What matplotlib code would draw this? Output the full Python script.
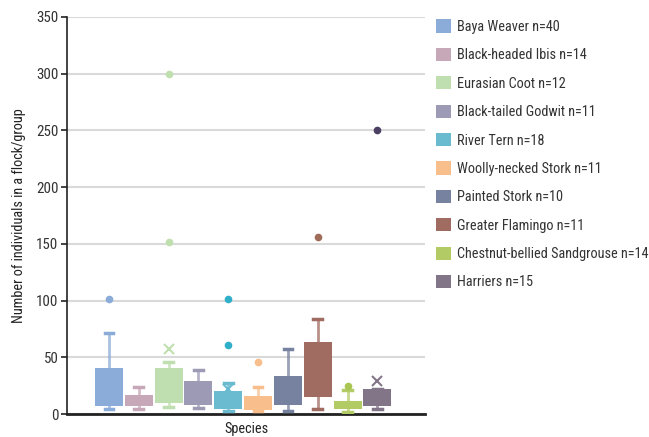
import numpy as np
import matplotlib
matplotlib.use('Agg')
from matplotlib import pyplot as plt
from matplotlib import font_manager
from matplotlib.patches import Patch

installed = {f.name for f in font_manager.fontManager.ttflist}
narrow = [f for f in ['Roboto Condensed', 'Liberation Sans Narrow', 'Open Sans Condensed',
                      'Noto Sans Condensed', 'Noto Sans Display Condensed', 'DejaVu Sans Condensed']
          if f in installed]
font = narrow[0] if narrow else 'Liberation Sans'
plt.rcParams['font.family'] = [font, 'DejaVu Sans']

# box plot summary
species = ['Baya Weaver', 'Black-headed Ibis', 'Eurasian Coot', 'Black-tailed Godwit',
           'River Tern', 'Woolly-necked Stork', 'Painted Stork', 'Greater Flamingo',
           'Chestnut-bellied Sandgrouse', 'Harriers']
n_obs = [40, 14, 12, 11, 18, 11, 10, 11, 14, 15]
q1 = [7, 7, 10, 8, 4.7, 3.8, 8, 15, 4, 7.3]
q3 = [40.5, 17, 40.5, 29, 20, 16, 33.5, 63.5, 11.5, 22]
whislo = [4, 4, 6, 5, 3, 3, 3, 4.7, 2, 4.7]
whishi = [71, 24, 46, 39, 27.5, 24, 57, 84, 21, 22]
means = [np.nan, np.nan, 57.5, np.nan, 22, np.nan, np.nan, np.nan, np.nan, 29.5]
fliers = [[101], [], [300, 152], [], [101, 61], [46], [], [156], [25], [250]]

colors = ['#8BACD8', '#C7A8B8', '#C0DFB0', '#9D9AB5', '#6BBBD0',
          '#F8BE8C', '#7781A0', '#A06C62', '#B3CB64', '#827588']
flier_colors = ['#8BACD8', '#C7A8B8', '#BFE0AE', '#9D9AB5', '#2FAFC8',
                '#F8BE8C', '#7781A0', '#A06C5A', '#A9C552', '#4B3F63']

fig = plt.figure(figsize=(6.49, 4.37), dpi=100)
ax = fig.add_axes([0.103, 0.0526, 0.552, 0.9085])

stats = []
for i in range(len(species)):
    stats.append(dict(med=q1[i], q1=q1[i], q3=q3[i], whislo=whislo[i], whishi=whishi[i],
                      mean=means[i], fliers=fliers[i], label=species[i]))

pos = np.arange(len(species))
bp = ax.bxp(stats, positions=pos, widths=0.94, capwidths=0.29, patch_artist=True,
            showmeans=True, showfliers=True)

for i, c in enumerate(colors):
    bp['boxes'][i].set(facecolor=c, edgecolor='none', zorder=3)
    bp['medians'][i].set_visible(False)
    for w in bp['whiskers'][2*i:2*i+2]:
        w.set(color=c, linewidth=2, alpha=0.75, zorder=2)
    for cp in bp['caps'][2*i:2*i+2]:
        cp.set(color=c, linewidth=2.5, zorder=2.6)
    bp['means'][i].set(marker='x', markeredgecolor=c, markersize=7, markeredgewidth=1.5, zorder=2.5)
    bp['fliers'][i].set(marker='o', markerfacecolor=flier_colors[i], markeredgecolor='none',
                        markersize=5.5, zorder=3)

fs = 10.3 if narrow else 9.5
ax.set_xlim(-1.41, 10.6)
ax.set_ylim(0, 350)
ax.set_yticks(range(0, 351, 50))
ax.set_xticks([])
ax.yaxis.grid(True, color='#D9D9D9', linewidth=1.5)
ax.set_axisbelow(True)
for s in ['top', 'right']:
    ax.spines[s].set_visible(False)
ax.spines['left'].set(color='#222222', linewidth=1.2)
ax.spines['bottom'].set(color='#222222', linewidth=2)
ax.tick_params(axis='y', length=4, width=1.2, color='#222222', labelsize=fs + 0.5,
               labelcolor='#333333', pad=2)
ax.set_xlabel('Species', fontsize=fs, color='#222222', labelpad=6)
ax.set_ylabel('Number of individuals in a flock/group', fontsize=fs, color='#222222', labelpad=7)

handles = [Patch(facecolor=c, edgecolor='none') for c in colors]
labels = [f'{s} n={n}' for s, n in zip(species, n_obs)]
fig.legend(handles, labels, loc='upper left', bbox_to_anchor=(0.652, 0.985), frameon=False,
           fontsize=fs, handlelength=1.05, handleheight=1.05, handletextpad=0.4,
           labelspacing=0.97, labelcolor='#333333')

fig.savefig('out.png', dpi=100)
